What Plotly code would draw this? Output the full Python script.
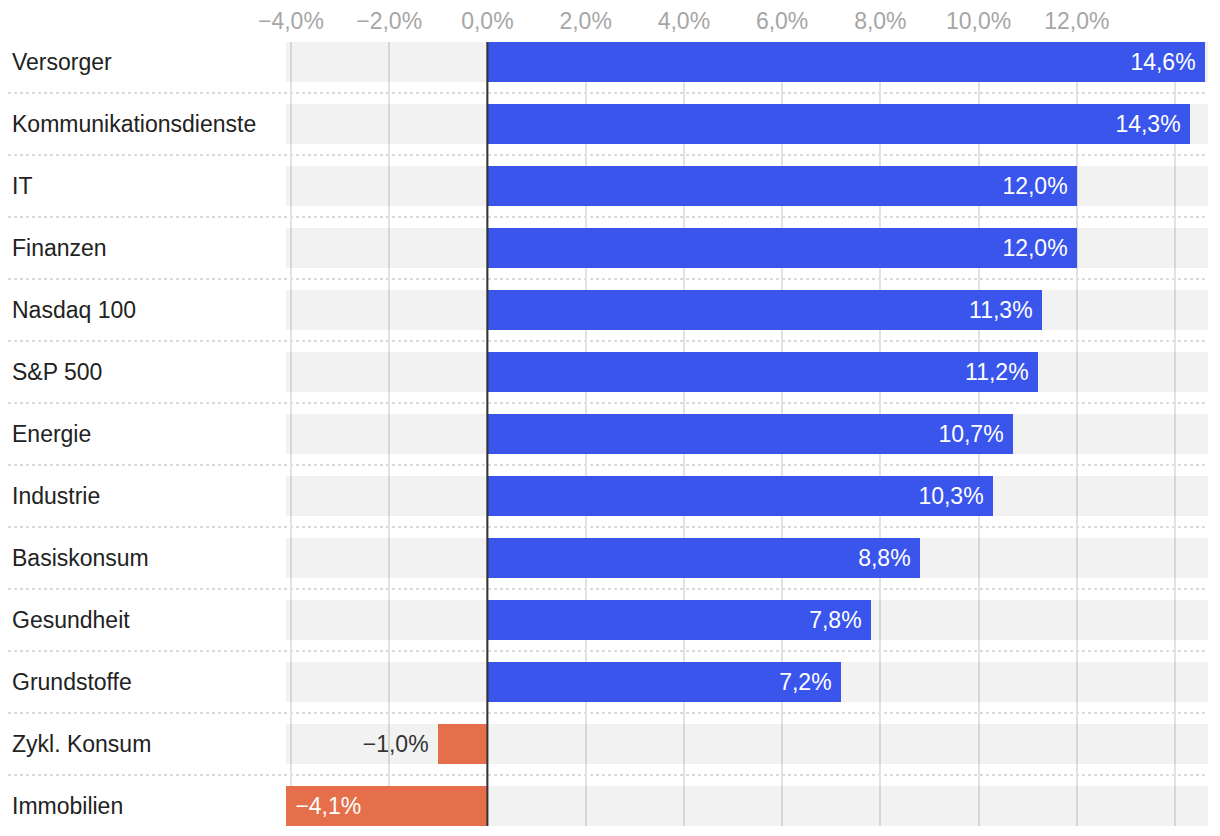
import plotly.graph_objects as go

categories = ["Versorger", "Kommunikationsdienste", "IT", "Finanzen", "Nasdaq 100",
              "S&P 500", "Energie", "Industrie", "Basiskonsum", "Gesundheit",
              "Grundstoffe", "Zykl. Konsum", "Immobilien"]
values = [14.6, 14.3, 12.0, 12.0, 11.3, 11.2, 10.7, 10.3, 8.8, 7.8, 7.2, -1.0, -4.1]
tick_vals = [-4, -2, 0, 2, 4, 6, 8, 10, 12, 14]
tick_text = ["−4,0%", "−2,0%", "0,0%", "2,0%", "4,0%", "6,0%", "8,0%", "10,0%", "12,0%", ""]

BLUE = "#3a55eb"
ORANGE = "#e66f4b"
FONT = "Liberation Sans, Arial, Helvetica, sans-serif"
FS = 23

W, H = 1212, 828
ML, MR, MT, MB = 278, 12, 34, 10
PW = W - ML - MR

x_min, x_max = -4.1, 14.67
n = len(categories)
half = 20 / 62
y_lo, y_hi = -half, (n - 1) + half
span = y_hi - y_lo


def fmt(v):
    s = f"{abs(v):.1f}".replace(".", ",") + "%"
    return ("−" + s) if v < 0 else s


labels = []
positions = []
colors = []
for v in values:
    colors.append(BLUE if v >= 0 else ORANGE)
    if -2 < v < 0:
        labels.append(fmt(v) + "\u00a0")
        positions.append("outside")
    else:
        labels.append(fmt(v) + "\u00a0" if v >= 0 else "\u00a0" + fmt(v))
        positions.append("inside")

fig = go.Figure()
# background bands
fig.add_trace(go.Bar(
    y=categories, x=[x_max - x_min] * n, base=[x_min] * n, orientation="h",
    marker=dict(color="rgba(0,0,0,0.05)", line=dict(width=0)),
    width=40 / 62, hoverinfo="skip", showlegend=False,
))
fig.add_trace(go.Bar(
    y=categories, x=values, orientation="h",
    marker=dict(color=colors, line=dict(width=0)),
    width=40 / 62,
    text=labels, textposition=positions, insidetextanchor="end",
    textangle=0, cliponaxis=False,
    insidetextfont=dict(color="white", size=FS, family=FONT),
    outsidetextfont=dict(color="#333333", size=FS, family=FONT),
    showlegend=False,
))

shapes = []
for i in range(n - 1):
    yp = (y_hi - (i + 0.5)) / span
    shapes.append(dict(type="line", xref="paper", yref="paper",
                       x0=-ML / PW, x1=1, y0=yp, y1=yp,
                       line=dict(color="#cfcfcf", width=1.5, dash="dot"), layer="below"))
shapes.append(dict(type="line", xref="x", yref="paper", x0=0, x1=0, y0=0, y1=1,
                   line=dict(color="#333333", width=2), layer="above"))

annotations = []
for c in categories:
    annotations.append(dict(x=(2 - ML) / PW, xref="paper", y=c, yref="y",
                            text=c, showarrow=False, xanchor="left", yanchor="middle",
                            font=dict(size=FS, color="#222222", family=FONT)))

fig.update_layout(
    width=W, height=H,
    margin=dict(l=ML, r=MR, t=MT, b=MB, autoexpand=False),
    paper_bgcolor="white", plot_bgcolor="white",
    barmode="overlay", bargap=0,
    font=dict(family=FONT),
    shapes=shapes, annotations=annotations,
    xaxis=dict(side="top", range=[x_min, x_max], tickvals=tick_vals, ticktext=tick_text,
               showgrid=True, gridcolor="#e2e2e2", gridwidth=2, zeroline=False,
               ticks="", tickfont=dict(size=FS, color="#a6a6a6", family=FONT),
               ticklabelstandoff=7, automargin=False, fixedrange=True),
    yaxis=dict(range=[y_hi, y_lo], showticklabels=False, showgrid=False,
               zeroline=False, ticks="", automargin=False, fixedrange=True),
)

fig.write_html("out.html")
